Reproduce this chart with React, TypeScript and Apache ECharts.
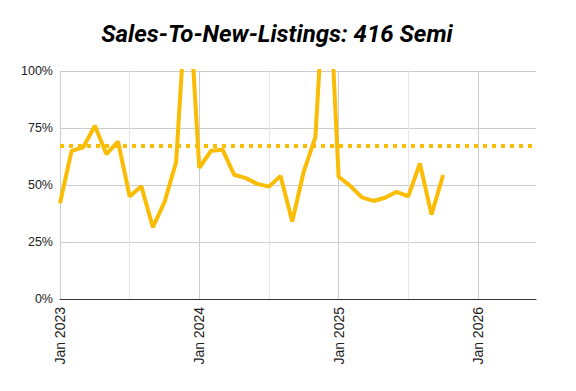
import React, { useEffect, useRef } from "react";
import * as echarts from "echarts";

const months: string[] = [
  "2023-01", "2023-02", "2023-03", "2023-04", "2023-05", "2023-06",
  "2023-07", "2023-08", "2023-09", "2023-10", "2023-11", "2023-12",
  "2024-01", "2024-02", "2024-03", "2024-04", "2024-05", "2024-06",
  "2024-07", "2024-08", "2024-09", "2024-10", "2024-11", "2024-12",
  "2025-01", "2025-02", "2025-03", "2025-04", "2025-05", "2025-06",
  "2025-07", "2025-08", "2025-09", "2025-10",
];
const ratioValues: number[] = [
  42, 65, 66.5, 76, 63.5, 69, 45, 49.5, 31.5, 42.5, 60, 142,
  57.5, 65, 65.5, 54.5, 53, 50.5, 49.3, 54, 34, 56, 71, 159,
  53.6, 49.6, 44.6, 43, 44.4, 47, 45, 59.5, 37, 54.4,
];
const averageValue = 67;
const axisStartYear = 2023;
const axisMonthsMax = 41; // Jun 2026
const yTicks = [0, 25, 50, 75, 100];

const monthIndex = (m: string) => {
  const [y, mo] = m.split("-").map(Number);
  return (y - axisStartYear) * 12 + (mo - 1);
};

export default function App() {
  const ref = useRef<HTMLDivElement>(null);
  useEffect(() => {
    document.body.style.margin = "0";
    if (!ref.current) return;
    const chart = echarts.init(ref.current, null, { renderer: "svg" });
    const color = "#fbbc04";
    chart.setOption({
      animation: false,
      title: {
        text: "Sales-To-New-Listings: 416 Semi",
        left: 272,
        textAlign: "center",
        top: 17,
        textStyle: {
          fontFamily: "Roboto",
          fontWeight: "bold",
          fontStyle: "italic",
          fontSize: 24,
          color: "#000",
        },
      },
      grid: { left: 60, right: 40, top: 71, bottom: 92, containLabel: false },
      xAxis: {
        type: "value",
        min: 0,
        max: axisMonthsMax,
        interval: 6,
        axisLine: { show: true, lineStyle: { color: "#333", width: 1 } },
        axisTick: { show: false },
        axisLabel: {
          rotate: 90,
          margin: 8,
          fontFamily: "Liberation Sans",
          fontSize: 14,
          color: "#222",
          formatter: (v: number) =>
            v % 12 === 0 ? "Jan " + (axisStartYear + v / 12) : "",
        },
        splitLine: {
          show: true,
          showMaxLine: false,
          lineStyle: { color: ["#cccccc", "#e6e6e6"], width: 1 },
        },
      },
      yAxis: {
        type: "value",
        min: yTicks[0],
        max: yTicks[yTicks.length - 1],
        interval: 25,
        axisLine: { show: false },
        axisTick: { show: false },
        axisLabel: {
          margin: 7,
          fontFamily: "Liberation Sans",
          fontSize: 12.5,
          color: "#222",
          formatter: "{value}%",
        },
        splitLine: { show: true, lineStyle: { color: "#cccccc", width: 1 } },
      },
      series: [
        {
          type: "line",
          data: months.map((m, i) => [monthIndex(m), ratioValues[i]]),
          showSymbol: false,
          symbol: "none",
          clip: true,
          lineStyle: { color, width: 4 },
          markLine: {
            silent: true,
            symbol: ["none", "none"],
            label: { show: false },
            lineStyle: { color, width: 4, type: [4, 5] },
            data: [{ yAxis: averageValue }],
          },
        },
      ],
    });
    return () => chart.dispose();
  }, []);
  return <div ref={ref} style={{ width: 576, height: 391 }} />;
}
